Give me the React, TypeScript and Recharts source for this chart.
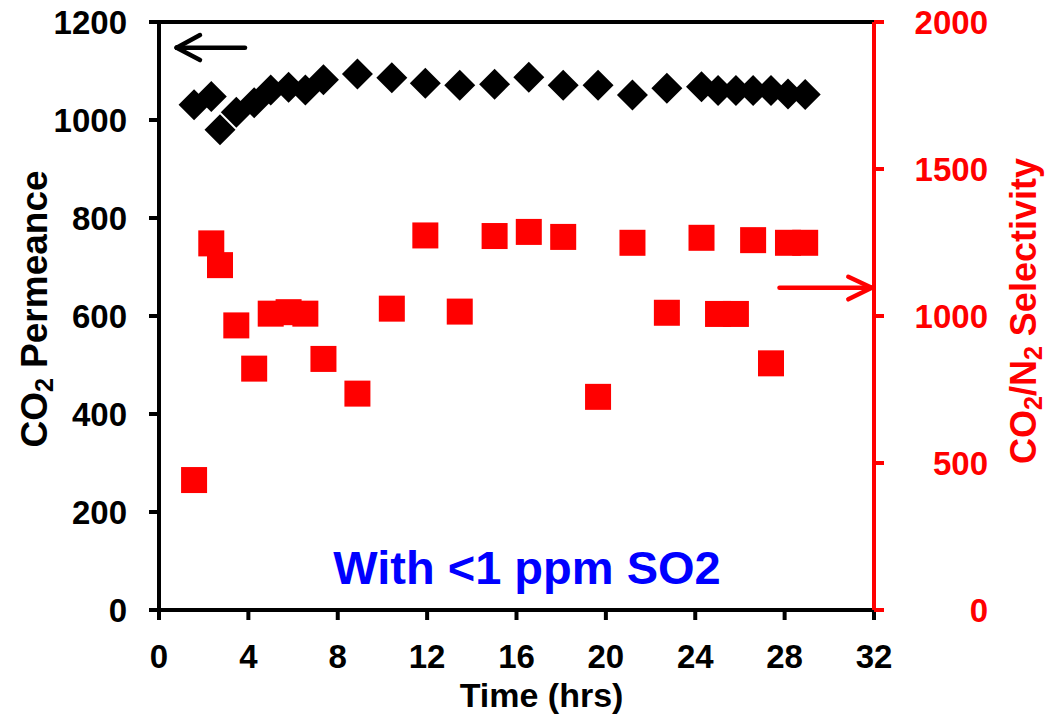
import React from 'react';
import { ScatterChart, Scatter, XAxis, YAxis, ReferenceLine, ReferenceDot } from 'recharts';

// ---- data ----
const timeHrs = [1.57, 2.34, 2.73, 3.46, 4.26, 5.0, 5.8, 6.55, 7.36, 8.88, 10.42, 11.92, 13.46, 15.02, 16.55, 18.09, 19.65, 21.19, 22.73, 24.28, 25.02, 25.82, 26.59, 27.39, 28.15, 28.92];
const permeance = [1031, 1048, 980, 1016, 1035, 1061, 1067, 1061, 1082, 1094, 1086, 1075, 1071, 1073, 1087, 1071, 1071, 1051, 1065, 1068, 1060, 1060, 1060, 1060, 1053, 1052];
const selectivity = [442, 1247, 1173, 968, 821, 1008, 1013, 1008, 854, 736, 1025, 1274, 1015, 1272, 1286, 1269, 725, 1249, 1011, 1266, 1007, 1007, 1258, 839, 1249, 1249];

const xTicks = [0, 4, 8, 12, 16, 20, 24, 28, 32];
const leftTicks = [0, 200, 400, 600, 800, 1000, 1200];
const rightTicks = [0, 500, 1000, 1500, 2000];

const annotationText = 'With <1 ppm SO2';
const annotationPos = { t: 16.47, v: 86.7 };
// arrows (data coordinates)
const leftArrow = { tip: { t: 0.79, v: 1147.6 }, tail: { t: 3.85, v: 1147.6 }, headUp: { t: 1.835, v: 1173.5 }, headDown: { t: 1.835, v: 1122.4 } };
const rightArrow = { tip: { t: 31.9, v: 1096 }, tail: { t: 27.77, v: 1096 }, headUp: { t: 30.85, v: 1133.6 }, headDown: { t: 30.85, v: 1056.7 } };

const permeanceData = timeHrs.map((t, i) => ({ t, v: permeance[i] }));
const selectivityData = timeHrs.map((t, i) => ({ t, v: selectivity[i] }));

const FONT = '"Liberation Sans", Arial, Helvetica, sans-serif';
const RED = '#FF0000';
const BLACK = '#000000';
const BLUE = '#0000FF';

const Diamond = (props: any) => {
  const { cx, cy } = props;
  if (cx == null || cy == null) return null;
  const h = 15.5;
  return <polygon points={`${cx},${cy - h} ${cx + h},${cy} ${cx},${cy + h} ${cx - h},${cy}`} fill={BLACK} />;
};

const Square = (props: any) => {
  const { cx, cy } = props;
  if (cx == null || cy == null) return null;
  const s = 26;
  return <rect x={cx - s / 2} y={cy - s / 2} width={s} height={s} fill={RED} />;
};

const LeftTick = (props: any) => {
  const { x, y, payload } = props;
  return (
    <text x={x} y={y} dy={11.7} textAnchor="end" fontFamily={FONT} fontWeight="bold" fontSize={33} fill={BLACK}>
      {payload.value}
    </text>
  );
};

const RightTick = (props: any) => {
  const { x, y, payload } = props;
  return (
    <text x={x + 94} y={y} dy={11.7} textAnchor="end" fontFamily={FONT} fontWeight="bold" fontSize={33} fill={RED}>
      {payload.value}
    </text>
  );
};

const BottomTick = (props: any) => {
  const { x, y, payload } = props;
  return (
    <text x={x} y={y} dy={23.4} textAnchor="middle" fontFamily={FONT} fontWeight="bold" fontSize={33} fill={BLACK}>
      {payload.value}
    </text>
  );
};

const LeftLabel = (props: any) => {
  const vb = props.viewBox || { x: 0, y: 22, width: 159, height: 588 };
  const cx = vb.x + 47;
  const cy = vb.y + vb.height / 2 - 7;
  return (
    <text transform={`rotate(-90 ${cx} ${cy})`} x={cx} y={cy} textAnchor="middle" fontFamily={FONT} fontWeight="bold" fontSize={37} fill={BLACK}>
      CO<tspan fontSize={25} dy={6}>2</tspan><tspan dy={-6}> Permeance</tspan>
    </text>
  );
};

const RightLabel = (props: any) => {
  const vb = props.viewBox || { x: 874, y: 22, width: 174, height: 588 };
  const cx = vb.x + 162;
  const cy = vb.y + vb.height / 2 - 5;
  return (
    <text transform={`rotate(-90 ${cx} ${cy})`} x={cx} y={cy} textAnchor="middle" fontFamily={FONT} fontWeight="bold" fontSize={36} fill={RED}>
      CO<tspan fontSize={25} dy={6}>2</tspan><tspan dy={-6}>/N</tspan><tspan fontSize={25} dy={6}>2</tspan><tspan dy={-6}> Selectivity</tspan>
    </text>
  );
};

const BottomLabel = (props: any) => {
  const vb = props.viewBox || { x: 159, y: 610, width: 715, height: 106 };
  const cx = vb.x + vb.width / 2 + 25;
  const cy = vb.y + 97;
  return (
    <text x={cx} y={cy} textAnchor="middle" fontFamily={FONT} fontWeight="bold" fontSize={34} fill={BLACK}>
      Time (hrs)
    </text>
  );
};

const AnnotationShape = (props: any) => {
  const { cx, cy } = props;
  return (
    <text x={cx} y={cy} dy={16.7} textAnchor="middle" fontFamily={FONT} fontWeight="bold" fontSize={47} fill={BLUE}>
      {annotationText}
    </text>
  );
};

const makeLineShape = (color: string, width: number, cap: 'round' | 'butt') => (props: any) => {
  const { x1, y1, x2, y2 } = props;
  if ([x1, y1, x2, y2].some((v) => v == null || Number.isNaN(v))) return null;
  return <line x1={x1} y1={y1} x2={x2} y2={y2} stroke={color} strokeWidth={width} strokeLinecap={cap} />;
};

const blackArrowLine = makeLineShape(BLACK, 4.5, 'round');
const redArrowLine = makeLineShape(RED, 4.5, 'round');
const topBorder = makeLineShape(BLACK, 4, 'butt');

const seg = (a: { t: number; v: number }, b: { t: number; v: number }) => [
  { x: a.t, y: a.v },
  { x: b.t, y: b.v },
];

export default function App() {
  return (
    <div style={{ position: 'absolute', left: 0, top: 0, width: 1048, height: 716, background: '#fff' }}>
      <ScatterChart width={1048} height={716} margin={{ top: 22, right: 0, bottom: 0, left: 0 }}>
        <XAxis
          xAxisId={0}
          dataKey="t"
          type="number"
          domain={[0, 32]}
          ticks={xTicks}
          interval={0}
          allowDataOverflow
          height={106}
          tickSize={10}
          tickMargin={25}
          axisLine={{ stroke: BLACK, strokeWidth: 4 }}
          tickLine={{ stroke: BLACK, strokeWidth: 4 }}
          tick={<BottomTick />}
          label={BottomLabel}
        />
        <YAxis
          yAxisId="left"
          orientation="left"
          dataKey="v"
          type="number"
          domain={[0, 1200]}
          ticks={leftTicks}
          interval={0}
          allowDataOverflow
          width={159}
          tickSize={10}
          tickMargin={22}
          axisLine={{ stroke: BLACK, strokeWidth: 4 }}
          tickLine={{ stroke: BLACK, strokeWidth: 4 }}
          tick={<LeftTick />}
          label={LeftLabel}
        />
        <YAxis
          yAxisId="right"
          orientation="right"
          dataKey="v"
          type="number"
          domain={[0, 2000]}
          ticks={rightTicks}
          interval={0}
          allowDataOverflow
          width={174}
          tickSize={10}
          tickMargin={10}
          axisLine={{ stroke: RED, strokeWidth: 4 }}
          tickLine={{ stroke: RED, strokeWidth: 4 }}
          tick={<RightTick />}
          label={RightLabel}
        />
        <ReferenceLine yAxisId="left" y={1200} shape={topBorder} ifOverflow="visible" />
        <Scatter name="CO2/N2 Selectivity" data={selectivityData} yAxisId="right" shape={Square} isAnimationActive={false} />
        <Scatter name="CO2 Permeance" data={permeanceData} yAxisId="left" shape={Diamond} isAnimationActive={false} />
        <ReferenceLine yAxisId="left" segment={seg(leftArrow.tail, leftArrow.tip)} shape={blackArrowLine} ifOverflow="visible" />
        <ReferenceLine yAxisId="left" segment={seg(leftArrow.headUp, leftArrow.tip)} shape={blackArrowLine} ifOverflow="visible" />
        <ReferenceLine yAxisId="left" segment={seg(leftArrow.headDown, leftArrow.tip)} shape={blackArrowLine} ifOverflow="visible" />
        <ReferenceLine yAxisId="right" segment={seg(rightArrow.tail, rightArrow.tip)} shape={redArrowLine} ifOverflow="visible" />
        <ReferenceLine yAxisId="right" segment={seg(rightArrow.headUp, rightArrow.tip)} shape={redArrowLine} ifOverflow="visible" />
        <ReferenceLine yAxisId="right" segment={seg(rightArrow.headDown, rightArrow.tip)} shape={redArrowLine} ifOverflow="visible" />
        <ReferenceDot yAxisId="left" x={annotationPos.t} y={annotationPos.v} r={0} shape={AnnotationShape} />
      </ScatterChart>
    </div>
  );
}
